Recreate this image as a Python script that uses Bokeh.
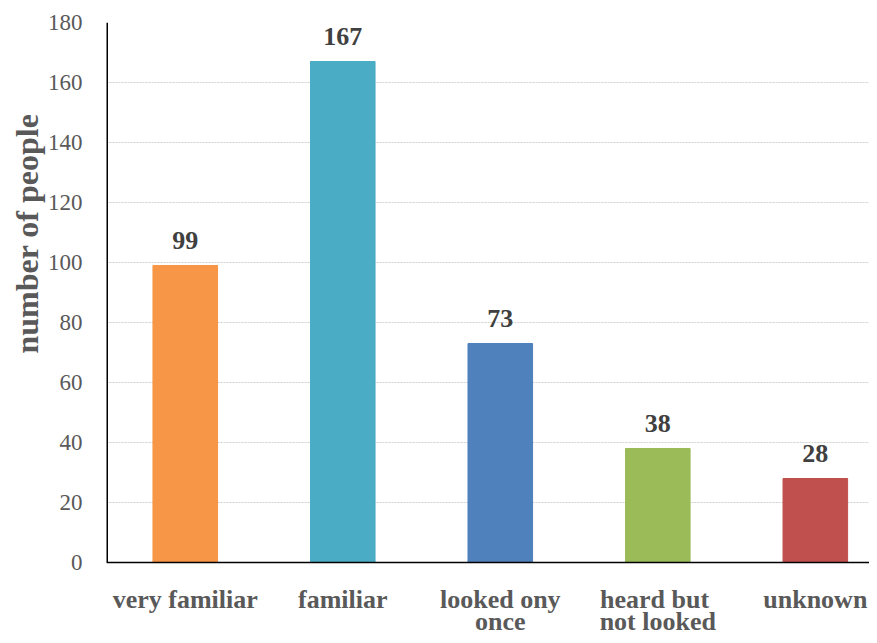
from bokeh.plotting import figure
from bokeh.models import ColumnDataSource, Range1d, FixedTicker, LabelSet, Span, Title
from bokeh.embed import file_html
from bokeh.resources import INLINE

categories = ["very familiar", "familiar", "looked ony\nonce", "heard  but\nnot looked", "unknown"]
values = [99, 167, 73, 38, 28]
colors = ["#F79646", "#4BACC6", "#4F81BD", "#9BBB59", "#C0504D"]
y_ticks = [0, 20, 40, 60, 80, 100, 120, 140, 160, 180]
y_title = "number of people"

xs = list(range(len(categories)))
src = ColumnDataSource(dict(x=xs, top=values, color=colors, label=[str(v) for v in values]))
line1 = [c.split("\n")[0] for c in categories]
line2 = [c.split("\n")[1] if "\n" in c else "" for c in categories]
cat_src = ColumnDataSource(dict(x=xs, y=[0] * len(xs), l1=line1, l2=line2))

FONT = "'Liberation Serif', 'Times New Roman', serif"
GREY = "#595959"

# frame reaches the canvas bottom so the two-line category labels can sit under the baseline
p = figure(width=869, height=635, output_backend="svg", toolbar_location=None,
           x_range=Range1d(-0.5, 4.344), y_range=Range1d(-24.33, 180),
           min_border_left=106, min_border_top=22, min_border_right=0, min_border_bottom=0)
p.outline_line_color = None
p.background_fill_color = "white"

p.vbar(x="x", top="top", width=0.41, color="color", source=src)

# axis lines
p.add_layout(Span(location=0, dimension="width", line_color="black", line_width=1.5))
p.segment(x0=[-0.5], y0=[0], x1=[-0.5], y1=[y_ticks[-1]], line_color="black", line_width=3)

p.add_layout(LabelSet(x="x", y="top", text="label", source=src, text_align="center",
                      text_baseline="alphabetic", y_offset=17, text_font=FONT,
                      text_font_style="bold", text_font_size="26px", text_color="#404040"))

for col, off in (("l1", -45), ("l2", -67)):
    p.add_layout(LabelSet(x="x", y="y", text=col, source=cat_src, text_align="center",
                          text_baseline="alphabetic", y_offset=off, text_font=FONT,
                          text_font_style="bold", text_font_size="26px", text_color=GREY))

p.xaxis.visible = False

p.yaxis.ticker = FixedTicker(ticks=y_ticks)
p.yaxis.major_label_text_font = FONT
p.yaxis.major_label_text_font_size = "23px"
p.yaxis.major_label_text_color = GREY
p.yaxis.major_label_standoff = 18
p.yaxis.major_tick_line_color = None
p.yaxis.minor_tick_line_color = None
p.yaxis.axis_line_color = None

p.add_layout(Title(text=y_title, align="right", offset=91, standoff=0, text_font=FONT,
                   text_font_style="bold", text_font_size="32px", text_color=GREY), "left")

p.xgrid.grid_line_color = None
p.ygrid.grid_line_color = "#d0d0d0"
p.ygrid.grid_line_dash = "2 1"
p.ygrid.grid_line_width = 1

open("out.html", "w").write(file_html(p, INLINE))
